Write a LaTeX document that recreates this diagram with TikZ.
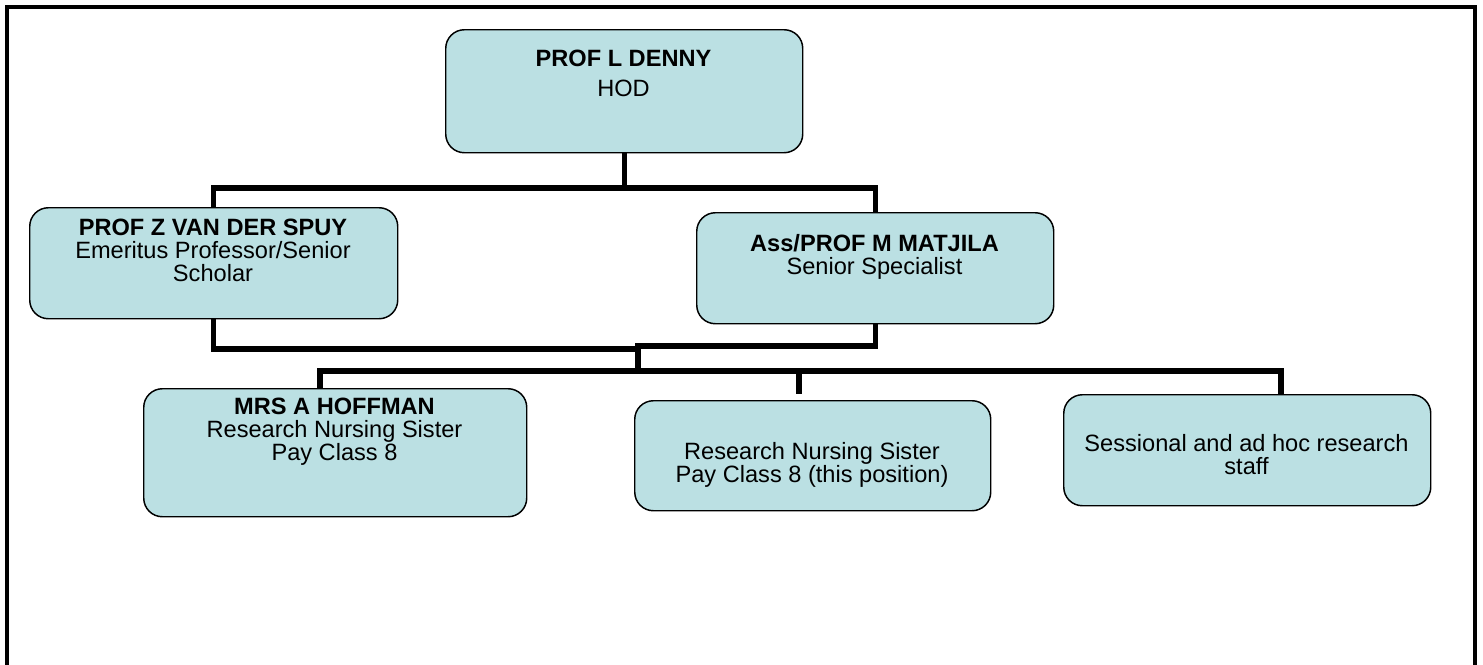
\documentclass[tikz,border=0pt]{standalone}
\usepackage{fontspec}
\setmainfont{Liberation Sans}
\usetikzlibrary{calc}
\definecolor{boxfill}{RGB}{187,224,227}
\tikzset{
  orgbox/.style={draw=black, line width=1.1pt, fill=boxfill, rounded corners=14pt,
    anchor=north west, inner sep=0pt, shape=rectangle},
  lbl/.style={anchor=base, inner sep=0pt},
  conn/.style={draw=black, line width=4pt, line join=miter, line cap=butt},
  frameline/.style={draw=black, line width=2.3pt}
}
\newcommand{\tb}[2]{\parbox[t]{#1}{\centering\fontsize{17.7}{17.6}\selectfont #2}}
\begin{document}
\begin{tikzpicture}[x=0.75pt, y=-0.75pt]
\useasboundingbox (0,0) rectangle (1483,664);
% outer frame (bottom edge is outside the picture)
\draw[frameline] (7,680) -- (7,7) -- (1475,7) -- (1475,680);

% boxes
\node[orgbox, minimum width=267.75pt, minimum height=92.25pt] (top) at (445,29) {};
\node[orgbox, minimum width=276pt, minimum height=83.25pt] (vds) at (29,207) {};
\node[orgbox, minimum width=267.75pt, minimum height=83.25pt] (mat) at (696,212) {};
\node[orgbox, minimum width=287.25pt, minimum height=96pt] (hof) at (143,388) {};
\node[orgbox, minimum width=267pt, minimum height=82.5pt] (pos) at (634,400) {};
\node[orgbox, minimum width=275.25pt, minimum height=83.25pt] (ses) at (1063,394) {};

% texts
\node[lbl] (topt) at (623.5,66) {\tb{260pt}{\textbf{PROF L DENNY}\\[5pt]HOD}};
\node[lbl] (vdst) at (213,235) {\tb{270pt}{\textbf{PROF Z VAN DER SPUY}\\Emeritus Professor/Senior\\Scholar}};
\node[lbl] (matt) at (874.5,251) {\tb{260pt}{\textbf{Ass/PROF M MATJILA}\\Senior Specialist}};
\node[lbl] (hoft) at (334.5,414) {\tb{280pt}{\textbf{MRS A HOFFMAN}\\Research Nursing Sister\\Pay Class 8}};
\node[lbl] (post) at (812,459) {\tb{260pt}{Research Nursing Sister\\Pay Class 8 (this position)}};
\node[lbl] (sest) at (1246.5,451) {\tb{270pt}{Sessional and ad hoc research\\staff}};

% junction coordinates
\coordinate (bus1) at (623,188);
\coordinate (vjoin) at (638,349);
\coordinate (mjoin) at (638,346);
\coordinate (drop) at (638,374);
\coordinate (busL) at (320,371);
\coordinate (busR) at (1281,371);
\coordinate (stub) at (799,371);
\coordinate (stubend) at (799,394);

% connectors
\draw[conn] (top.south) -- (top.south |- bus1);
\draw[conn] (vds.north) -- (vds.north |- bus1) -- (mat.north |- bus1) -- (mat.north);
\draw[conn] (vds.south) |- (vjoin);
\draw[conn] (mat.south) |- (mjoin) -- (drop);
\draw[conn] (hof.north -| busL) -- (busL) -- (busR) -- (ses.north -| busR);
\draw[conn] (stub) -- (stubend);
\end{tikzpicture}
\end{document}
